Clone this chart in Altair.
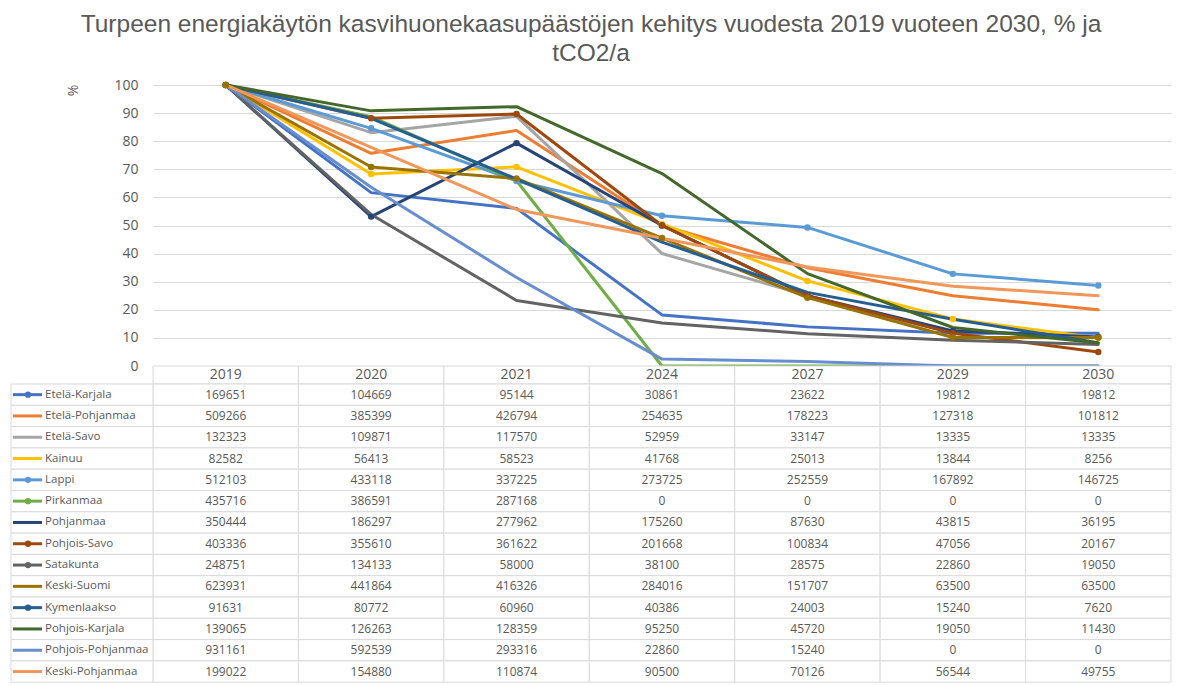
import altair as alt
import pandas as pd

title_lines = [
    "Turpeen energiakäytön kasvihuonekaasupäästöjen kehitys vuodesta 2019 vuoteen 2030, % ja",
    "tCO2/a",
]
years = ["2019", "2020", "2021", "2024", "2027", "2029", "2030"]
regions = [
    "Etelä-Karjala", "Etelä-Pohjanmaa", "Etelä-Savo", "Kainuu", "Lappi", "Pirkanmaa",
    "Pohjanmaa", "Pohjois-Savo", "Satakunta", "Keski-Suomi", "Kymenlaakso",
    "Pohjois-Karjala", "Pohjois-Pohjanmaa", "Keski-Pohjanmaa",
]
colors = [
    "#4472C4", "#ED7D31", "#A5A5A5", "#FFC000", "#5B9BD5", "#70AD47", "#264478",
    "#9E480E", "#636363", "#997300", "#255E91", "#43682B", "#698ED0", "#F1975A",
]

etela_karjala = [169651, 104669, 95144, 30861, 23622, 19812, 19812]
etela_pohjanmaa = [509266, 385399, 426794, 254635, 178223, 127318, 101812]
etela_savo = [132323, 109871, 117570, 52959, 33147, 13335, 13335]
kainuu = [82582, 56413, 58523, 41768, 25013, 13844, 8256]
lappi = [512103, 433118, 337225, 273725, 252559, 167892, 146725]
pirkanmaa = [435716, 386591, 287168, 0, 0, 0, 0]
pohjanmaa = [350444, 186297, 277962, 175260, 87630, 43815, 36195]
pohjois_savo = [403336, 355610, 361622, 201668, 100834, 47056, 20167]
satakunta = [248751, 134133, 58000, 38100, 28575, 22860, 19050]
keski_suomi = [623931, 441864, 416326, 284016, 151707, 63500, 63500]
kymenlaakso = [91631, 80772, 60960, 40386, 24003, 15240, 7620]
pohjois_karjala = [139065, 126263, 128359, 95250, 45720, 19050, 11430]
pohjois_pohjanmaa = [931161, 592539, 293316, 22860, 15240, 0, 0]
keski_pohjanmaa = [199022, 154880, 110874, 90500, 70126, 56544, 49755]

series_values = [
    etela_karjala, etela_pohjanmaa, etela_savo, kainuu, lappi, pirkanmaa, pohjanmaa,
    pohjois_savo, satakunta, keski_suomi, kymenlaakso, pohjois_karjala,
    pohjois_pohjanmaa, keski_pohjanmaa,
]

legend_markers = ["Etelä-Karjala", "Lappi", "Pirkanmaa", "Pohjois-Savo", "Satakunta", "Kymenlaakso"]
line_markers = ["Kainuu", "Lappi", "Pohjanmaa", "Pohjois-Savo", "Keski-Suomi"]

rows = []
for i, (name, vals) in enumerate(zip(regions, series_values)):
    for y, v in zip(years, vals):
        rows.append(dict(region=name, idx=i, year=y, value=v,
                         pct=v / vals[0] * 100, label=str(v)))
df = pd.DataFrame(rows)
leg_df = pd.DataFrame({"region": regions,
                       "marker": [r in legend_markers for r in regions]})
hdr_df = pd.DataFrame({"year": years})

W = 1018
GRAY = "#595959"
BORDER = "#d9d9d9"
color_scale = alt.Scale(domain=regions, range=colors)
color_enc = alt.Color("region:N", scale=color_scale, legend=None)

x_point = alt.X("year:O", sort=years, scale=alt.Scale(domain=years, padding=0.5), axis=None)
x_band = alt.X("year:O", sort=years,
               scale=alt.Scale(domain=years, paddingInner=0, paddingOuter=0), axis=None)

# ---- line chart
top_base = alt.Chart(df).encode(
    x=x_point,
    y=alt.Y("pct:Q", scale=alt.Scale(domain=[0, 100], nice=False),
            axis=alt.Axis(values=list(range(0, 101, 10)), grid=True, gridColor=BORDER,
                          gridWidth=1, domain=False, ticks=False, labelColor=GRAY,
                          labelFontSize=14, labelPadding=15, title="%",
                          titleAngle=-90, titleX=-80, titleY=5, titleFontSize=14,
                          titleFontWeight="normal", titleColor=GRAY,
                          titleAlign="center", titleBaseline="middle")),
    color=color_enc,
)
lines = top_base.mark_line(strokeWidth=3, strokeJoin="round", strokeCap="round").encode(
    detail="region:N")
points = top_base.transform_filter(
    alt.FieldOneOfPredicate(field="region", oneOf=line_markers)
).mark_circle(size=42, opacity=1)
top = alt.layer(lines, points).properties(width=W, height=281)

# ---- header row
hdr_base = alt.Chart(hdr_df).encode(x=x_band)
hdr_rect = hdr_base.mark_rect(fill="white", stroke=BORDER, strokeWidth=1)
hdr_text = hdr_base.mark_text(fontSize=14, color=GRAY).encode(text="year:N")
header = alt.layer(hdr_rect, hdr_text).properties(width=W, height=18)

# ---- table body
y_rows = alt.Y("region:N", sort=regions,
               scale=alt.Scale(domain=regions, paddingInner=0, paddingOuter=0), axis=None)
body_base = alt.Chart(df).encode(y=y_rows)
body_rect = body_base.mark_rect(fill="white", stroke=BORDER, strokeWidth=1).encode(x=x_band)
body_text = body_base.mark_text(fontSize=12, color=GRAY).encode(x=x_band, text="label:N")

leg_base = alt.Chart(leg_df).encode(y=y_rows)
leg_rect = leg_base.mark_rect(fill="white", stroke=BORDER, strokeWidth=1).encode(
    x=alt.value(-142), x2=alt.value(0))
leg_line = leg_base.mark_rule(strokeWidth=3).encode(
    x=alt.value(-140), x2=alt.value(-111), color=color_enc)
leg_dot = leg_base.transform_filter("datum.marker").mark_circle(size=40, opacity=1).encode(
    x=alt.value(-125), color=color_enc)
leg_text = leg_base.mark_text(align="left", fontSize=11.5, color=GRAY).encode(
    x=alt.value(-108), text="region:N")

body = alt.layer(body_rect, body_text, leg_rect, leg_line, leg_dot, leg_text).properties(
    width=W, height=14 * 21.3)

chart = alt.vconcat(
    top, header, body,
    spacing=0,
    bounds="flush",
    padding={"left": 2, "top": 3, "right": 0, "bottom": 1},
    title=alt.TitleParams(text=title_lines, fontSize=24.5, font="Liberation Sans",
                          fontWeight="normal", color=GRAY, lineHeight=29,
                          anchor="middle", offset=12),
).resolve_scale(x="independent", y="independent", color="shared").configure(
    font="Open Sans"
).configure_view(stroke=None)

chart.save("out.html", embed_options={"renderer": "svg", "actions": False})
